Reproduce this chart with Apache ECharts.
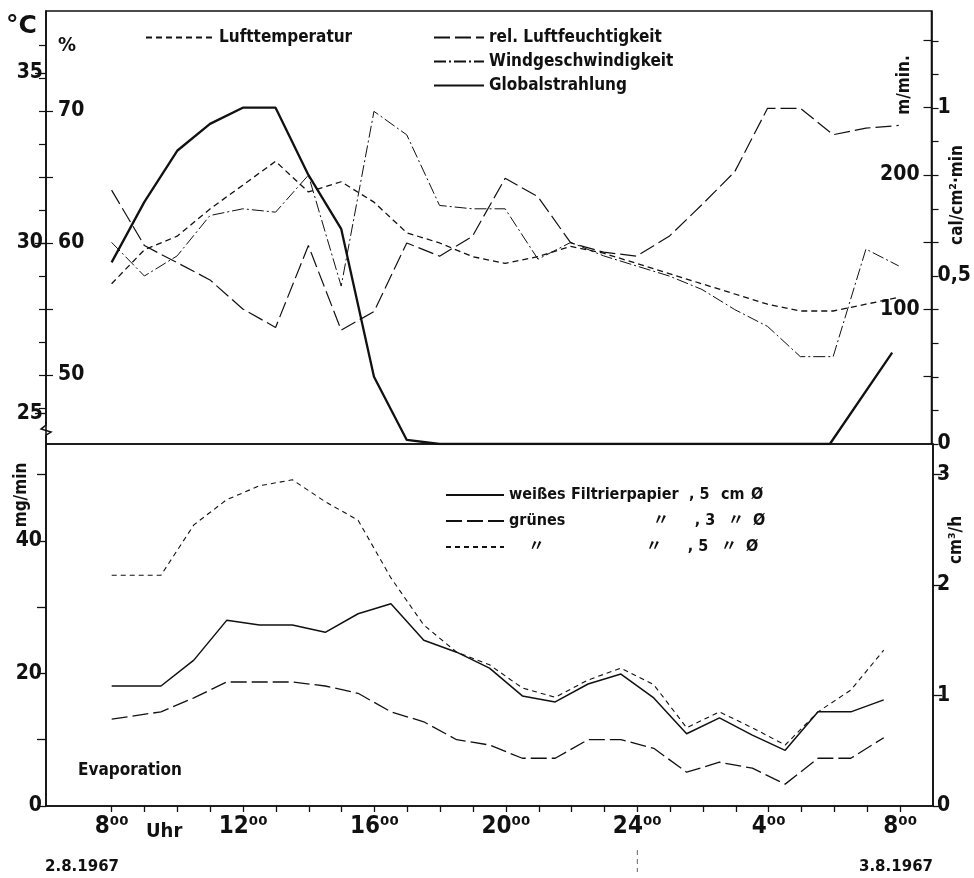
<!DOCTYPE html>
<html>
<head>
<meta charset="utf-8">
<script src="https://cdn.jsdelivr.net/npm/echarts@6/dist/echarts.min.js"></script>
<style>
html, body { margin: 0; padding: 0; background: #fff; }
#chart { width: 974px; height: 878px; }
</style>
</head>
<body>
<div id="chart"></div>
<script>
// Zeitachse in Stunden ab 0 Uhr am 2.8. (24 = Mitternacht, 32 = 8 Uhr am 3.8.)
var hourTicks = [8, 9, 10, 11, 12, 13, 14, 15, 16, 17, 18, 19, 20, 21, 22, 23, 24, 25, 26, 27, 28, 29, 30, 31, 32];
var hourLabels = [8, 12, 16, 20, 24, 28, 32];

// oberes Feld
var hoursClimate = [8, 9, 10, 11, 12, 13, 14, 15, 16, 17, 18, 19, 20, 21, 22, 23, 24, 25, 26, 27, 28, 29, 30, 31, 32];
var lufttemperatur = [28.8, 29.8, 30.2, 31.0, 31.7, 32.4, 31.5, 31.8, 31.2, 30.3, 30.0, 29.6, 29.4, 29.6, 29.9, 29.7, 29.4, 29.1, 28.8, 28.5, 28.2, 28.0, 28.0, 28.2, 28.4];
var luftfeuchte = [64.0, 59.8, 58.5, 57.2, 55.0, 53.6, 59.8, 53.4, 54.8, 60.0, 59.0, 60.5, 64.9, 63.5, 60.0, 59.3, 59.0, 60.5, 62.9, 65.4, 70.2, 70.2, 68.2, 68.7, 68.9];
var windgeschw = [0.60, 0.50, 0.56, 0.68, 0.70, 0.69, 0.80, 0.47, 0.99, 0.92, 0.71, 0.70, 0.70, 0.55, 0.60, 0.56, 0.53, 0.50, 0.46, 0.40, 0.35, 0.26, 0.26, 0.58, 0.53];
var hoursRad = [8, 9, 10, 11, 12, 13, 14, 15, 16, 17, 18, 29.9, 31.8];
var globalstrahlung = [135, 180, 218, 238, 250, 250, 200, 160, 50, 3, 0, 0, 68];

// unteres Feld (Evaporation, mg/min)
var hoursEvap = [8, 9.5, 10.5, 11.5, 12.5, 13.5, 14.5, 15.5, 16.5, 17.5, 18.5, 19.5, 20.5, 21.5, 22.5, 23.5, 24.5, 25.5, 26.5, 27.5, 28.5, 29.5, 30.5, 31.5];
var weiss5 = [18.1, 18.1, 22, 28, 27.3, 27.3, 26.2, 29, 30.5, 25, 23.2, 20.8, 16.6, 15.7, 18.4, 19.9, 16.3, 10.9, 13.3, 10.7, 8.4, 14.2, 14.2, 16];
var gruen3 = [13.1, 14.2, 16.3, 18.7, 18.7, 18.7, 18.1, 17, 14.2, 12.7, 10, 9.2, 7.2, 7.2, 10, 10, 8.7, 5.1, 6.6, 5.7, 3.3, 7.2, 7.2, 10.3];
var gruen5 = [34.8, 34.8, 42.4, 46.2, 48.3, 49.2, 45.9, 43.1, 34.4, 27.3, 23.2, 21.3, 17.8, 16.4, 19, 20.8, 18.3, 11.8, 14.2, 11.8, 9.2, 14.2, 17.5, 23.5];

// Achsenteilung
var tempLabels = [25, 30, 35];
var humTicksOut = [47.5, 50, 52.5, 55, 57.5, 60, 62.5, 65, 67.5, 70, 72.5, 75];
var humTicksIn = [50, 55, 60, 65, 70];
var humLabels = [50, 60, 70];
var windTicks = [0, 0.1, 0.2, 0.3, 0.4, 0.5, 0.6, 0.7, 0.8, 0.9, 1, 1.1, 1.2];
var windLabels = [0, 0.5, 1];
var radTicks = [50, 100, 150, 200, 250, 300];
var radLabels = [100, 200];
var mgTicks = [0, 10, 20, 30, 40, 50];
var mgLabels = [0, 20, 40];
var cmTicks = [0, 1, 2, 3];

var FONT = "'DejaVu Sans Condensed', 'Noto Sans CJK SC', sans-serif";
var BLACK = '#111';

function pairs(xs, ys) {
    return xs.map(function (x, i) { return [x, ys[i]]; });
}
function hourLabel(v) {
    var h = v % 24;
    if (h === 0) h = 24;
    return h + '\u2070\u2070';
}
function lbl(size) {
    return { color: BLACK, fontFamily: FONT, fontWeight: 'bold', fontSize: size };
}
function col(w, al) {
    return Object.assign({ width: w, align: al || 'left' }, lbl(16));
}

var chart = echarts.init(document.getElementById('chart'));

var option = {
    animation: false,
    backgroundColor: '#fff',
    grid: [
        { left: 46, right: 41, top: 11, height: 433, show: true, borderColor: BLACK, borderWidth: 1.6 },
        { left: 46, right: 41, top: 444, height: 362, show: true, borderColor: BLACK, borderWidth: 1.6 }
    ],
    xAxis: [
        { type: 'value', gridIndex: 0, min: 6, max: 33, show: false },
        {
            type: 'value', gridIndex: 1, min: 6, max: 33, position: 'bottom',
            axisLine: { show: true, lineStyle: { color: BLACK, width: 1.6 } },
            axisTick: { show: true, customValues: hourTicks, length: 6, lineStyle: { color: BLACK, width: 1.3 } },
            axisLabel: Object.assign({ customValues: hourLabels, formatter: hourLabel, margin: 9 }, lbl(24)),
            splitLine: { show: false }
        }
    ],
    yAxis: [
        { // 0 Lufttemperatur
            type: 'value', gridIndex: 0, position: 'left', min: 24.09, max: 36.82,
            axisLine: { show: true, lineStyle: { color: BLACK, width: 1.6 } },
            axisTick: { show: true, customValues: tempLabels, length: 11, lineStyle: { color: BLACK, width: 1.3 } },
            axisLabel: Object.assign({ customValues: tempLabels, margin: 3 }, lbl(21)),
            splitLine: { show: false }
        },
        { // 1 rel. Luftfeuchtigkeit
            type: 'value', gridIndex: 0, position: 'left', min: 44.77, max: 77.57,
            axisLine: { show: false },
            axisTick: { show: true, customValues: humTicksOut, length: 7, lineStyle: { color: BLACK, width: 1.2 } },
            axisLabel: Object.assign({ customValues: humLabels, inside: true, margin: 12 }, lbl(21)),
            splitLine: { show: false }
        },
        { // 2 Windgeschwindigkeit
            type: 'value', gridIndex: 0, position: 'right', min: 0, max: 1.2887,
            axisLine: { show: true, lineStyle: { color: BLACK, width: 1.6 } },
            axisTick: { show: true, customValues: windTicks, length: 7, lineStyle: { color: BLACK, width: 1.2 } },
            axisLabel: Object.assign({
                customValues: windLabels, margin: 6,
                formatter: function (v) { return String(v).replace('.', ','); }
            }, lbl(21)),
            splitLine: { show: false }
        },
        { // 3 Globalstrahlung
            type: 'value', gridIndex: 0, position: 'right', min: 0, max: 321.9,
            axisLine: { show: false },
            axisTick: { show: true, inside: true, customValues: radTicks, length: 8, lineStyle: { color: BLACK, width: 1.2 } },
            axisLabel: Object.assign({ customValues: radLabels, inside: true, margin: 12 }, lbl(21)),
            splitLine: { show: false }
        },
        { // 4 mg/min
            type: 'value', gridIndex: 1, position: 'left', min: 0, max: 54.6,
            axisLine: { show: true, lineStyle: { color: BLACK, width: 1.6 } },
            axisTick: { show: true, customValues: mgTicks, length: 9, lineStyle: { color: BLACK, width: 1.3 } },
            axisLabel: Object.assign({ customValues: mgLabels, margin: 4 }, lbl(21)),
            splitLine: { show: false }
        },
        { // 5 cm3/h
            type: 'value', gridIndex: 1, position: 'right', min: 0, max: 3.276,
            axisLine: { show: true, lineStyle: { color: BLACK, width: 1.6 } },
            axisTick: { show: true, customValues: cmTicks, length: 9, lineStyle: { color: BLACK, width: 1.3 } },
            axisLabel: Object.assign({ customValues: cmTicks, margin: 4 }, lbl(21)),
            splitLine: { show: false }
        },
        { // 6 Luftfeuchte, Striche nach innen
            type: 'value', gridIndex: 0, position: 'left', min: 44.77, max: 77.57,
            axisLine: { show: false },
            axisTick: { show: true, inside: true, customValues: humTicksIn, length: 7, lineStyle: { color: BLACK, width: 1.2 } },
            axisLabel: { show: false },
            splitLine: { show: false }
        }
    ],
    legend: [
        {
            data: ['Lufttemperatur'], left: 140, top: 24, itemWidth: 68, itemHeight: 12, itemGap: 8,
            itemStyle: { opacity: 0 }, textStyle: lbl(17)
        },
        {
            data: ['rel. Luftfeuchtigkeit', 'Windgeschwindigkeit', 'Globalstrahlung'],
            orient: 'vertical', left: 428, top: 24, itemWidth: 50, itemHeight: 12, itemGap: 7,
            itemStyle: { opacity: 0 }, textStyle: lbl(17)
        },
        {
            data: ['weiss5', 'gruen3', 'gruen5'],
            orient: 'vertical', left: 440, top: 482, itemWidth: 58, itemHeight: 12, itemGap: 10,
            itemStyle: { opacity: 0 },
            formatter: function (n) {
                if (n === 'weiss5') return '{a|weißes}{b|Filtrierpapier}{c|, 5}{d|cm}{e|Ø}';
                if (n === 'gruen3') return '{a|grünes}{s| }{q|〃}{c|, 3}{dq|〃}{e|Ø}';
                return '{aq|〃}{s| }{q|〃}{c|, 5}{dq|〃}{e|Ø}';
            },
            textStyle: Object.assign({
                rich: {
                    a: col(62), aq: col(55, 'center'), b: col(118), s: col(62), q: col(56, 'center'),
                    c: col(32), d: col(30), dq: col(30, 'center'), e: col(16)
                }
            }, lbl(16))
        }
    ],
    series: [
        {
            name: 'Lufttemperatur', type: 'line', xAxisIndex: 0, yAxisIndex: 0,
            data: pairs(hoursClimate, lufttemperatur), symbol: 'none',
            lineStyle: { color: BLACK, width: 1.3, type: [6, 4] }, itemStyle: { color: BLACK }
        },
        {
            name: 'rel. Luftfeuchtigkeit', type: 'line', xAxisIndex: 0, yAxisIndex: 1,
            data: pairs(hoursClimate, luftfeuchte), symbol: 'none',
            lineStyle: { color: BLACK, width: 1.2, type: [16, 5] }, itemStyle: { color: BLACK }
        },
        {
            name: 'Windgeschwindigkeit', type: 'line', xAxisIndex: 0, yAxisIndex: 2,
            data: pairs(hoursClimate, windgeschw), symbol: 'none',
            lineStyle: { color: BLACK, width: 1, type: [12, 3, 2, 3] }, itemStyle: { color: BLACK }
        },
        {
            name: 'Globalstrahlung', type: 'line', xAxisIndex: 0, yAxisIndex: 3,
            data: pairs(hoursRad, globalstrahlung), symbol: 'none',
            lineStyle: { color: BLACK, width: 2.3 }, itemStyle: { color: BLACK }
        },
        {
            name: 'weiss5', type: 'line', xAxisIndex: 1, yAxisIndex: 4,
            data: pairs(hoursEvap, weiss5), symbol: 'none',
            lineStyle: { color: BLACK, width: 1.5 }, itemStyle: { color: BLACK }
        },
        {
            name: 'gruen3', type: 'line', xAxisIndex: 1, yAxisIndex: 4,
            data: pairs(hoursEvap, gruen3), symbol: 'none',
            lineStyle: { color: BLACK, width: 1.3, type: [16, 5] }, itemStyle: { color: BLACK }
        },
        {
            name: 'gruen5', type: 'line', xAxisIndex: 1, yAxisIndex: 4,
            data: pairs(hoursEvap, gruen5), symbol: 'none',
            lineStyle: { color: BLACK, width: 1.1, type: [5, 4] }, itemStyle: { color: BLACK }
        }
    ],
    graphic: [
        { id: 'degC', type: 'text', x: 6, y: 14, style: { text: '°C', font: 'bold 25px DejaVu Sans', fill: BLACK } },
        { id: 'pct', type: 'text', x: 58, y: 36, style: { text: '%', font: 'bold 20px ' + FONT, fill: BLACK } },
        { id: 'mmin', type: 'text', x: 905, y: 85, rotation: Math.PI / 2,
          style: { text: 'm/min.', font: 'bold 17px ' + FONT, fill: BLACK, align: 'center', verticalAlign: 'middle', textAlign: 'center', textVerticalAlign: 'middle' } },
        { id: 'cal', type: 'text', x: 958, y: 195, rotation: Math.PI / 2,
          style: { text: 'cal/cm²·min', font: 'bold 17px ' + FONT, fill: BLACK, align: 'center', verticalAlign: 'middle', textAlign: 'center', textVerticalAlign: 'middle' } },
        { id: 'mg', type: 'text', x: 22, y: 495, rotation: Math.PI / 2,
          style: { text: 'mg/min', font: 'bold 17px ' + FONT, fill: BLACK, align: 'center', verticalAlign: 'middle', textAlign: 'center', textVerticalAlign: 'middle' } },
        { id: 'cm3', type: 'text', x: 957, y: 540, rotation: Math.PI / 2,
          style: { text: 'cm³/h', font: 'bold 17px ' + FONT, fill: BLACK, align: 'center', verticalAlign: 'middle', textAlign: 'center', textVerticalAlign: 'middle' } },
        { id: 'evap', type: 'text', x: 78, y: 762, style: { text: 'Evaporation', font: 'bold 17px ' + FONT, fill: BLACK } },
        { id: 'uhr', type: 'text', x: 146, y: 822, style: { text: 'Uhr', font: 'bold 20px ' + FONT, fill: BLACK } },
        { id: 'd1', type: 'text', x: 45, y: 860, style: { text: '2.8.1967', font: 'bold 15px DejaVu Sans', fill: BLACK } },
        { id: 'd2', type: 'text', x: 933, y: 860, style: { text: '3.8.1967', font: 'bold 15px DejaVu Sans', fill: BLACK, align: 'right', textAlign: 'right' } }
    ]
};
chart.setOption(option);

// Achsenbruch und Tagesgrenze, aus den Achsen berechnet
var xl = chart.convertToPixel({ xAxisIndex: 0 }, 6);
var yb = chart.convertToPixel({ yAxisIndex: 0 }, 24.5);
var xm = chart.convertToPixel({ xAxisIndex: 1 }, 24);
chart.setOption({
    graphic: [
        { id: 'brkbg', type: 'rect', shape: { x: xl - 2, y: yb - 6, width: 4, height: 12 }, style: { fill: '#fff' } },
        { id: 'brk', type: 'polyline',
          shape: { points: [[xl, yb - 8], [xl, yb - 5], [xl - 5, yb - 1], [xl + 5, yb + 2], [xl, yb + 5], [xl, yb + 8]] },
          style: { stroke: BLACK, lineWidth: 1.5, fill: null } },
        { id: 'mid', type: 'line', shape: { x1: xm, y1: 850, x2: xm, y2: 872 },
          style: { stroke: '#666', lineWidth: 1, lineDash: [5, 4] } }
    ]
});
</script>
</body>
</html>
